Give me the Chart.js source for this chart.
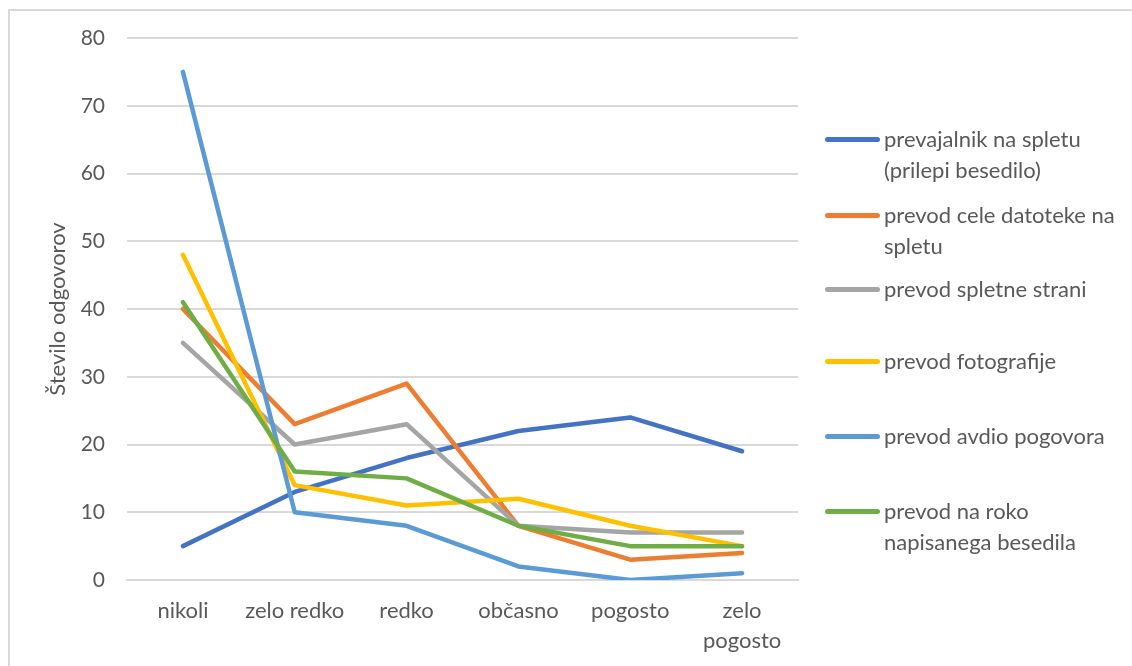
<!DOCTYPE html>
<html>
<head>
<meta charset="utf-8">
<script src="https://cdn.jsdelivr.net/npm/chart.js@4/dist/chart.umd.min.js"></script>
<style>
  html, body { margin: 0; padding: 0; background: #fff; }
  #wrap { position: relative; width: 1132px; height: 666px; overflow: hidden; }
  #frame { position: absolute; left: 8px; top: 9px; width: 1200px; height: 700px;
           border: 2px solid #d9d9d9; box-sizing: border-box; }
  #chart { position: absolute; left: 0; top: 0; }
  #legend { position: absolute; left: 0; top: 0; font-family: Lato, sans-serif;
            font-size: 22px; color: #595959; }
  .item { position: absolute; left: 825px; }
  .swatch { position: absolute; left: 0; width: 55px; height: 5px; border-radius: 2.5px; }
  .label { position: absolute; left: 59px; width: 240px; line-height: 31px; }
</style>
</head>
<body>
<div id="wrap">
  <div id="frame"></div>
  <canvas id="chart" width="1132" height="666"></canvas>
  <div id="legend"></div>
</div>
<script>
// Response categories (x axis)
const categories = ['nikoli', 'zelo redko', 'redko', 'občasno', 'pogosto', ['zelo', 'pogosto']];

// Series names
const seriesNames = [
  'prevajalnik na spletu (prilepi besedilo)',
  'prevod cele datoteke na spletu',
  'prevod spletne strani',
  'prevod fotografije',
  'prevod avdio pogovora',
  'prevod na roko napisanega besedila'
];

// Number of answers per category
const prevajalnik = [5, 13, 18, 22, 24, 19];
const celeDatoteke = [40, 23, 29, 8, 3, 4];
const spletneStrani = [35, 20, 23, 8, 7, 7];
const fotografije = [48, 14, 11, 12, 8, 5];
const avdioPogovora = [75, 10, 8, 2, 0, 1];
const naRoko = [41, 16, 15, 8, 5, 5];

// Y axis ticks
const yTicks = [0, 10, 20, 30, 40, 50, 60, 70, 80];

const seriesValues = [prevajalnik, celeDatoteke, spletneStrani, fotografije, avdioPogovora, naRoko];
const colors = ['#4472C4', '#ED7D31', '#A5A5A5', '#FFC000', '#5B9BD5', '#70AD47'];

const textColor = '#595959';
const fontFamily = 'Lato, sans-serif';

const datasets = seriesValues.map((vals, i) => ({
  label: seriesNames[i],
  data: vals,
  borderColor: colors[i],
  backgroundColor: colors[i],
  borderWidth: 4.5,
  pointRadius: 0,
  pointHoverRadius: 0,
  tension: 0,
  fill: false,
  borderCapStyle: 'round',
  borderJoinStyle: 'round',
  // later series are painted over earlier ones
  order: seriesValues.length - 1 - i
}));

const PLOT_LEFT = 127, PLOT_RIGHT = 798, PLOT_TOP = 38, PLOT_BOTTOM = 580;
const W = 1132, H = 666;
const PAD_LEFT = 45;

new Chart(document.getElementById('chart'), {
  type: 'line',
  data: { labels: categories, datasets },
  options: {
    responsive: false,
    animation: false,
    layout: { padding: { left: PAD_LEFT, top: PLOT_TOP, right: W - PLOT_RIGHT, bottom: 0 } },
    plugins: { legend: { display: false }, tooltip: { enabled: false } },
    scales: {
      x: {
        offset: true,
        grid: { display: false, drawTicks: false },
        border: { display: true, color: '#d9d9d9', width: 2 },
        ticks: { color: textColor, font: { family: fontFamily, size: 22, lineHeight: 1.36 },
                 padding: 16, maxRotation: 0 },
        afterFit: s => { s.height = H - PLOT_BOTTOM; }
      },
      y: {
        min: 0, max: 80,
        afterBuildTicks: s => { s.ticks = yTicks.map(v => ({ value: v })); },
        grid: { color: '#d9d9d9', lineWidth: 2, drawTicks: false },
        border: { display: false },
        ticks: { color: textColor, font: { family: fontFamily, size: 21 }, padding: 22 },
        title: { display: true, text: 'Število odgovorov', color: textColor,
                 font: { family: fontFamily, size: 22 }, padding: { top: 0, bottom: 0 } },
        afterFit: s => { s.width = PLOT_LEFT - PAD_LEFT; }
      }
    }
  }
});

// Legend on the right
const legendTops = [139, 215, 289, 361, 436, 511];
const legend = document.getElementById('legend');
seriesNames.forEach((name, i) => {
  const item = document.createElement('div');
  item.className = 'item';
  item.style.top = legendTops[i] + 'px';
  const sw = document.createElement('div');
  sw.className = 'swatch';
  sw.style.background = colors[i];
  sw.style.top = '-2px';
  const lb = document.createElement('div');
  lb.className = 'label';
  lb.style.top = '-16px';
  lb.textContent = name;
  item.appendChild(sw);
  item.appendChild(lb);
  legend.appendChild(item);
});
</script>
</body>
</html>
